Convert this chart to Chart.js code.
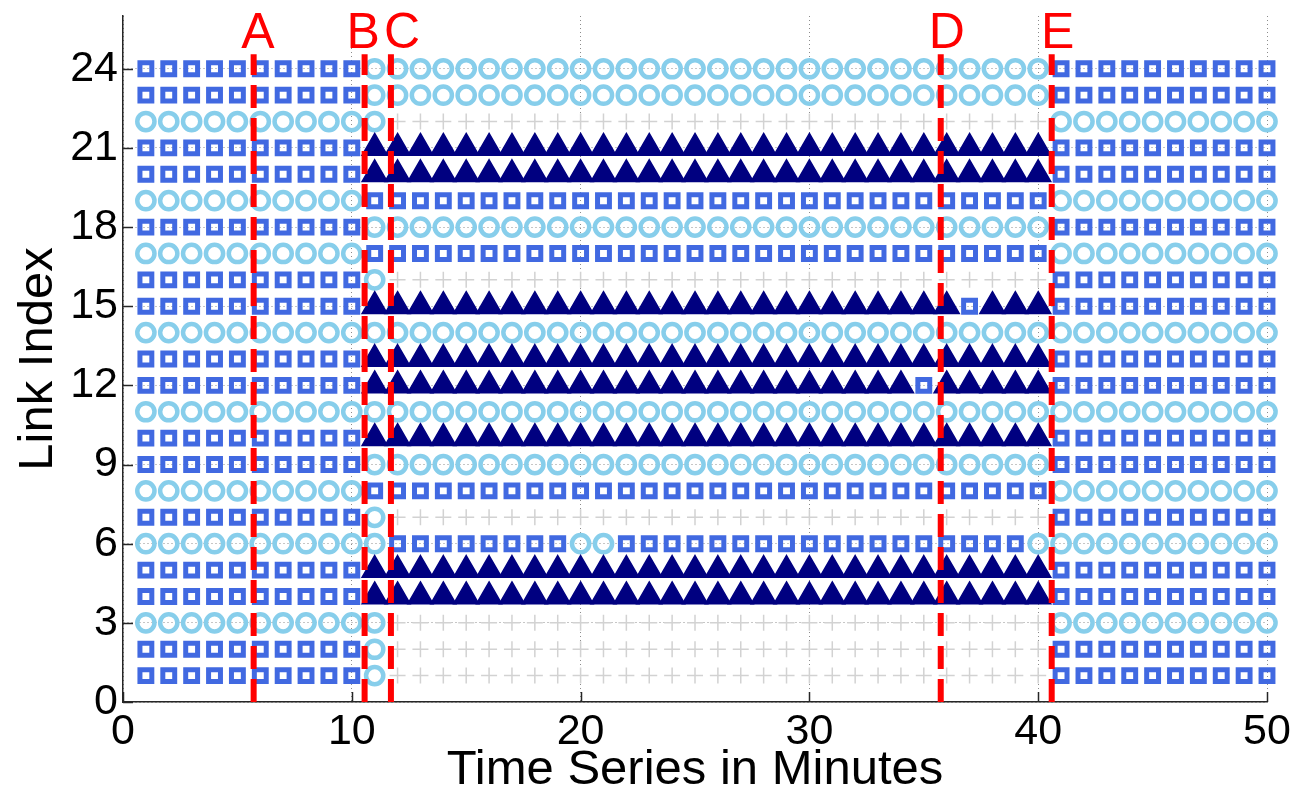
<!DOCTYPE html>
<html><head><meta charset="utf-8">
<script src="https://cdn.jsdelivr.net/npm/chart.js@4/dist/chart.umd.min.js"></script>
<style>html,body{margin:0;padding:0;background:#fff;} canvas{display:block;}</style>
</head><body>
<canvas id="c" width="1297" height="793"></canvas>
<script>
// ---- data ----
const minutes = [1,2,3,4,5,6,7,8,9,10,11,12,13,14,15,16,17,18,19,20,21,22,23,24,25,26,27,28,29,30,31,32,33,34,35,36,37,38,39,40,41,42,43,44,45,46,47,48,49,50];
const linkIndex = [24,23,22,21,20,19,18,17,16,15,14,13,12,11,10,9,8,7,6,5,4,3,2,1];
// S = square, O = circle, T = triangle, P = plus ; groups = minutes 1-10, 11-20, 21-30, 31-40, 41-50
const linkStates = [
  "SSSSSSSSSS OOOOOOOOOO OOOOOOOOOO OOOOOOOOOO SSSSSSSSSS", // 24
  "SSSSSSSSSS OOOOOOOOOO OOOOOOOOOO OOOOOOOOOO SSSSSSSSSS", // 23
  "OOOOOOOOOO OPPPPPPPPP PPPPPPPPPP PPPPPPPPPP OOOOOOOOOO", // 22
  "SSSSSSSSSS TTTTTTTTTT TTTTTTTTTT TTTTTTTTTT SSSSSSSSSS", // 21
  "SSSSSSSSSS TTTTTTTTTT TTTTTTTTTT TTTTTTTTTT SSSSSSSSSS", // 20
  "OOOOOOOOOO SSSSSSSSSS SSSSSSSSSS SSSSSSSSSS OOOOOOOOOO", // 19
  "SSSSSSSSSS OOOOOOOOOO OOOOOOOOOO OOOOOOOOOO SSSSSSSSSS", // 18
  "OOOOOOOOOO SSSSSSSSSS SSSSSSSSSS SSSSSSSSSS OOOOOOOOOO", // 17
  "SSSSSSSSSS OPPPPPPPPP PPPPPPPPPP PPPPPPPPPP SSSSSSSSSS", // 16
  "SSSSSSSSSS TTTTTTTTTT TTTTTTTTTT TTTTTTSTTT SSSSSSSSSS", // 15
  "OOOOOOOOOO OOOOOOOOOO OOOOOOOOOO OOOOOOOOOO OOOOOOOOOO", // 14
  "SSSSSSSSSS TTTTTTTTTT TTTTTTTTTT TTTTTTTTTT SSSSSSSSSS", // 13
  "SSSSSSSSSS TTTTTTTTTT TTTTTTTTTT TTTTSTTTTT SSSSSSSSSS", // 12
  "OOOOOOOOOO OOOOOOOOOO OOOOOOOOOO OOOOOOOOOO OOOOOOOOOO", // 11
  "SSSSSSSSSS TTTTTTTTTT TTTTTTTTTT TTTTTTTTTT SSSSSSSSSS", // 10
  "SSSSSSSSSS OOOOOOOOOO OOOOOOOOOO OOOOOOOOOO SSSSSSSSSS", // 9
  "OOOOOOOOOO SSSSSSSSSS SSSSSSSSSS SSSSSSSSSS OOOOOOOOOO", // 8
  "SSSSSSSSSS OPPPPPPPPP PPPPPPPPPP PPPPPPPPPP SSSSSSSSSS", // 7
  "OOOOOOOOOO OSSSSSSSSO OSSSSSSSSS SSSSSSSSSO OOOOOOOOOO", // 6
  "SSSSSSSSSS TTTTTTTTTT TTTTTTTTTT TTTTTTTTTT SSSSSSSSSS", // 5
  "SSSSSSSSSS TTTTTTTTTT TTTTTTTTTT TTTTTTTTTT SSSSSSSSSS", // 4
  "OOOOOOOOOO OPPPPPPPPP PPPPPPPPPP PPPPPPPPPP OOOOOOOOOO", // 3
  "SSSSSSSSSS OPPPPPPPPP PPPPPPPPPP PPPPPPPPPP SSSSSSSSSS", // 2
  "SSSSSSSSSS OPPPPPPPPP PPPPPPPPPP PPPPPPPPPP SSSSSSSSSS"  // 1
];
const eventLabels = ["A","B","C","D","E"];
const eventTimes  = [5.71, 10.56, 11.71, 35.74, 40.59];
const eventLabelX = [5.9, 10.5, 12.2, 36.0, 40.85];
const eventLineTop = 24.55;
const eventLabelY = 24.8;
const xTickValues = [0,10,20,30,40,50];
const yTickValues = [0,3,6,9,12,15,18,21,24];
const xTitle = "Time Series in Minutes";
const yTitle = "Link Index";

// ---- build datasets ----
const pts = {S:[], O:[], T:[], P:[]};
linkStates.forEach((row, i) => {
  const s = row.replace(/ /g, "");
  for (let j = 0; j < minutes.length; j++) {
    pts[s[j]].push({x: minutes[j], y: linkIndex[i]});
  }
});

const datasets = [];
eventTimes.forEach((t, k) => {
  datasets.push({
    label: "event " + eventLabels[k],
    data: [{x: t, y: 0}, {x: t, y: eventLineTop}],
    showLine: true, borderColor: "#ff0000", borderWidth: 6,
    borderDash: [23, 10], pointRadius: 0, clip: false
  });
});
datasets.push({label:"triangle", data: pts.T, pointStyle:"triangle", pointRadius:14.5,
  pointBorderWidth:1.5, borderColor:"#000080", backgroundColor:"#000080", clip:false});
datasets.push({label:"square", data: pts.S, pointStyle:"rect", pointRadius:8.4,
  pointBorderWidth:5, borderColor:"#4169E1", backgroundColor:"rgba(0,0,0,0)", clip:false});
datasets.push({label:"circle", data: pts.O, pointStyle:"circle", pointRadius:8.6,
  pointBorderWidth:4.5, borderColor:"#87CEEB", backgroundColor:"rgba(0,0,0,0)", clip:false});
datasets.push({label:"plus", data: pts.P, pointStyle:"cross", pointRadius:8,
  pointBorderWidth:1.5, borderColor:"#d2d2d2", backgroundColor:"#d2d2d2", clip:false});

const extras = {
  id: "extras",
  afterDatasetsDraw(chart) {
    const {ctx, scales:{x, y}, chartArea} = chart;
    ctx.save();
    ctx.strokeStyle = "#262626"; ctx.lineWidth = 1.5;
    yTickValues.forEach(v => {
      const py = Math.round(y.getPixelForValue(v)) + 0.5;
      ctx.beginPath(); ctx.moveTo(chartArea.left, py); ctx.lineTo(chartArea.left + 10, py); ctx.stroke();
    });
    xTickValues.forEach(v => {
      const px = Math.round(x.getPixelForValue(v)) + 0.5;
      ctx.beginPath(); ctx.moveTo(px, chartArea.bottom); ctx.lineTo(px, chartArea.bottom - 10); ctx.stroke();
    });
    ctx.fillStyle = "#ff0000";
    ctx.font = "50px 'Liberation Sans', Arial, sans-serif";
    ctx.textAlign = "center"; ctx.textBaseline = "alphabetic";
    eventLabels.forEach((lab, k) => {
      ctx.fillText(lab, x.getPixelForValue(eventLabelX[k]), y.getPixelForValue(eventLabelY));
    });
    ctx.restore();
  }
};

new Chart(document.getElementById("c"), {
  type: "scatter",
  data: { datasets },
  options: {
    responsive: false, animation: false, events: [],
    layout: { padding: { top: 15, right: 30, left: 0, bottom: 0 } },
    plugins: { legend: { display: false }, tooltip: { enabled: false } },
    scales: {
      x: {
        type: "linear", min: 0, max: 50,
        afterBuildTicks: s => { s.ticks = xTickValues.map(v => ({value: v})); },
        afterFit: s => { s.height = 91; s.paddingLeft = 0; s.paddingRight = 0; },
        grid: { color: "#8c8c8c", lineWidth: 1, drawTicks: false },
        border: { display: true, color: "#262626", width: 1.5, dash: [1, 3] },
        ticks: { color: "#000", padding: 4, font: { family: "'Liberation Sans', Arial, sans-serif", size: 43 } },
        title: { display: true, text: xTitle, color: "#000", padding: { top: 0, bottom: 0 },
          font: { family: "'Liberation Sans', Arial, sans-serif", size: 49, lineHeight: 0.92 } }
      },
      y: {
        type: "linear", min: 0, max: 26,
        afterBuildTicks: s => { s.ticks = yTickValues.map(v => ({value: v})); },
        afterFit: s => { s.width = 123; s.paddingTop = 0; s.paddingBottom = 0; },
        grid: { color: "#8c8c8c", lineWidth: 1, drawTicks: false },
        border: { display: true, color: "#262626", width: 1.5, dash: [1, 3] },
        ticks: { color: "#000", padding: 5, font: { family: "'Liberation Sans', Arial, sans-serif", size: 43 } },
        title: { display: true, text: yTitle, color: "#000", padding: { top: 14, bottom: 0 },
          font: { family: "'Liberation Sans', Arial, sans-serif", size: 49, lineHeight: 1 } }
      }
    }
  },
  plugins: [extras]
});
</script>
</body></html>
